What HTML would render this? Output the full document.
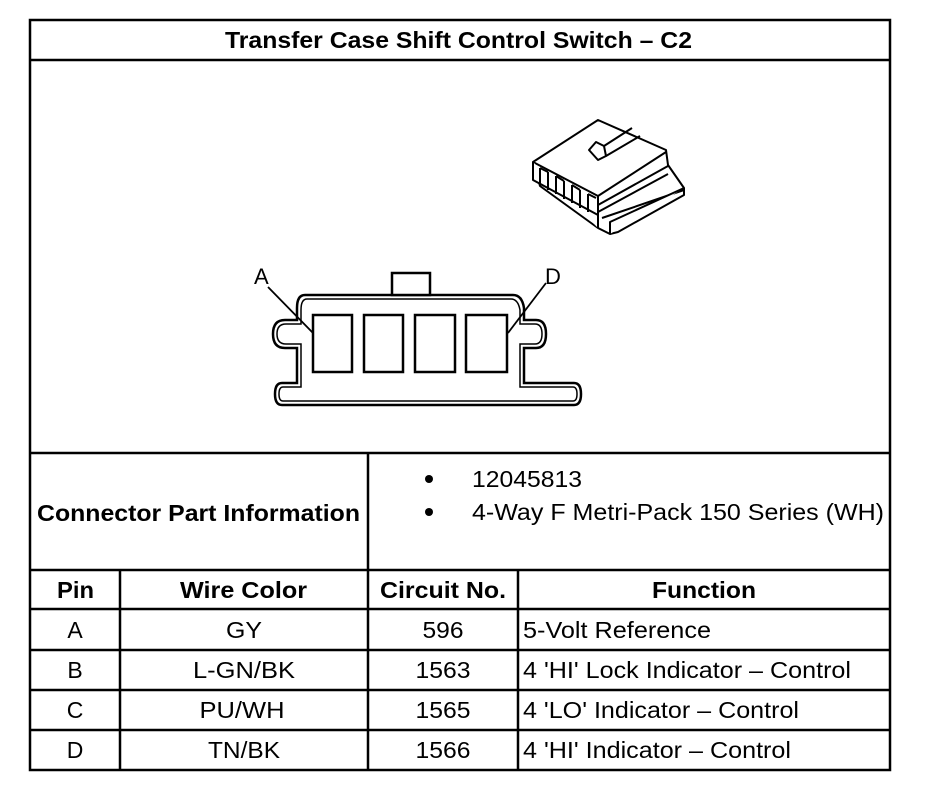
<!DOCTYPE html>
<html><head><meta charset="utf-8"><style>
html,body{margin:0;padding:0;background:#fff;width:944px;height:792px;overflow:hidden}
svg{display:block}
text{font-family:"Liberation Sans",Arial,sans-serif;fill:#000}
</style></head><body>
<svg width="944" height="792" viewBox="0 0 944 792" xmlns="http://www.w3.org/2000/svg">
<g stroke="#000" stroke-width="2.5" fill="none">
<rect x="30" y="20" width="860" height="750"/>
<line x1="30" y1="60" x2="890" y2="60"/>
<line x1="30" y1="453" x2="890" y2="453"/>
<line x1="30" y1="570" x2="890" y2="570"/>
<line x1="30" y1="609" x2="890" y2="609"/>
<line x1="30" y1="650" x2="890" y2="650"/>
<line x1="30" y1="690" x2="890" y2="690"/>
<line x1="30" y1="730" x2="890" y2="730"/>
<line x1="368" y1="453" x2="368" y2="770"/>
<line x1="120" y1="570" x2="120" y2="770"/>
<line x1="518" y1="570" x2="518" y2="770"/>
</g>
<text x="225" y="48" font-size="23" font-weight="bold" textLength="467" lengthAdjust="spacingAndGlyphs">Transfer Case Shift Control Switch – C2</text>
<g stroke="#000" fill="none">
<path d="M305 295 H513 Q522 295 524 308 V320 H536 Q546 320 546 334 Q546 348 536 348 H524 V383 H574 Q581 383 581 394 Q581 405 574 405 H282 Q275 405 275 394 Q275 383 282 383 H297 V348 H285 Q273 348 273 334 Q273 320 285 320 H297 V308 Q297 295 305 295 Z" stroke-width="2.5"/>
<path d="M307 299 H511 Q518 299 520 310 V324 H535 Q542 324 542 334 Q542 344 535 344 H520 V387 H573 Q577 387 577 394 Q577 401 573 401 H283 Q279 401 279 394 Q279 387 283 387 H301 V344 H286 Q277 344 277 334 Q277 324 286 324 H301 V310 Q301 299 307 299 Z" stroke-width="1.5"/>
<rect x="392" y="273" width="38" height="22" stroke-width="2.5" fill="#fff"/>
<rect x="313" y="315" width="39" height="57" stroke-width="2.5"/>
<rect x="364" y="315" width="39" height="57" stroke-width="2.5"/>
<rect x="415" y="315" width="40" height="57" stroke-width="2.5"/>
<rect x="466" y="315" width="41" height="57" stroke-width="2.5"/>
<line x1="268" y1="287" x2="313" y2="333" stroke-width="1.8"/>
<line x1="546" y1="283" x2="508" y2="333" stroke-width="1.8"/>
</g>
<text x="254" y="284" font-size="22">A</text>
<text x="545" y="284" font-size="22">D</text>
<g stroke="#000" stroke-width="2" fill="#fff" stroke-linejoin="round">
<path d="M533 162 L598 120 L666 150 L668 165 L684 188 L684 195 L618 232 L610 234 L598 228 L540 186 Z"/>
<path d="M533 162 L598 196 L666 152"/>
<path d="M533 162 L533 180 L598 215 L598 228"/>
<path d="M598 196 L598 228"/>
<path d="M598 205 L668 166 M598 212 L668 174 M602 218 L684 190"/>
<path d="M610 234 L610 222 L684 188"/>
<path d="M540 168 L540 186 M548 172 L548 190 M556 176 L556 194 M564 181 L564 199 M572 185 L572 203 M580 190 L580 208 M588 194 L588 212"/>
<path d="M540 168 L548 172 M556 176 L564 181 M572 185 L580 190 M588 194 L596 198"/>
<path d="M589 150 L596 142 L604 146 L606 156 L598 160 Z"/>
<path d="M604 146 L632 128 M606 156 L640 136"/>
</g>
<text x="37" y="521" font-size="23" font-weight="bold" textLength="323" lengthAdjust="spacingAndGlyphs">Connector Part Information</text>
<circle cx="429" cy="479" r="4"/>
<circle cx="429" cy="512" r="4"/>
<text x="472" y="487" font-size="23" textLength="110" lengthAdjust="spacingAndGlyphs">12045813</text>
<text x="472" y="520" font-size="23" textLength="412" lengthAdjust="spacingAndGlyphs">4-Way F Metri-Pack 150 Series (WH)</text>
<g font-size="23" font-weight="bold">
<text x="57" y="598" textLength="37" lengthAdjust="spacingAndGlyphs">Pin</text>
<text x="180" y="598" textLength="127" lengthAdjust="spacingAndGlyphs">Wire Color</text>
<text x="380" y="598" textLength="126" lengthAdjust="spacingAndGlyphs">Circuit No.</text>
<text x="652" y="598" textLength="104" lengthAdjust="spacingAndGlyphs">Function</text>
</g>
<g font-size="23">
<g text-anchor="middle" lengthAdjust="spacingAndGlyphs">
<text x="75" y="638">A</text><text x="244" y="638" textLength="36" lengthAdjust="spacingAndGlyphs">GY</text><text x="443" y="638" textLength="41" lengthAdjust="spacingAndGlyphs">596</text>
<text x="75" y="678">B</text><text x="244" y="678" textLength="102" lengthAdjust="spacingAndGlyphs">L-GN/BK</text><text x="443" y="678" textLength="55" lengthAdjust="spacingAndGlyphs">1563</text>
<text x="75" y="718">C</text><text x="242" y="718" textLength="85" lengthAdjust="spacingAndGlyphs">PU/WH</text><text x="443" y="718" textLength="55" lengthAdjust="spacingAndGlyphs">1565</text>
<text x="75" y="758">D</text><text x="244" y="758" textLength="72" lengthAdjust="spacingAndGlyphs">TN/BK</text><text x="443" y="758" textLength="55" lengthAdjust="spacingAndGlyphs">1566</text>
</g>
<text x="523" y="638" textLength="188" lengthAdjust="spacingAndGlyphs">5-Volt Reference</text>
<text x="523" y="678" textLength="328" lengthAdjust="spacingAndGlyphs">4 'HI' Lock Indicator – Control</text>
<text x="523" y="718" textLength="276" lengthAdjust="spacingAndGlyphs">4 'LO' Indicator – Control</text>
<text x="523" y="758" textLength="268" lengthAdjust="spacingAndGlyphs">4 'HI' Indicator – Control</text>
</g>
</svg>
</body></html>
